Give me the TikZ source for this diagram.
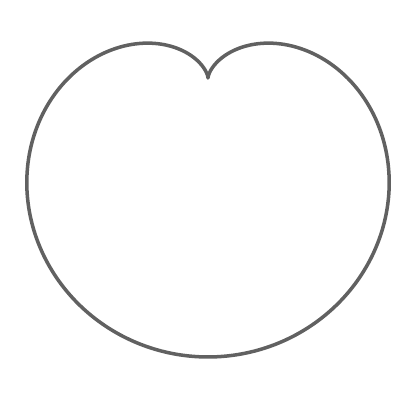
\documentclass[tikz,border=0pt]{standalone}
\usepackage{xcolor}
\usepackage{tikz}

\begin{document}
\begin{tikzpicture}[curve/.style={draw=black!62, line width=2pt, line join=round}]
\useasboundingbox (0,0) rectangle (7.96,8.02);
\coordinate (cusp) at (4.16,6.46);
\draw[curve, shift={(cusp)}] plot[domain=0:360, samples=240, smooth] ({2.79*(1-cos(\x))*sin(\x)}, {2.79*(1-cos(\x))*cos(\x)}) -- cycle;
\end{tikzpicture}
\end{document}
